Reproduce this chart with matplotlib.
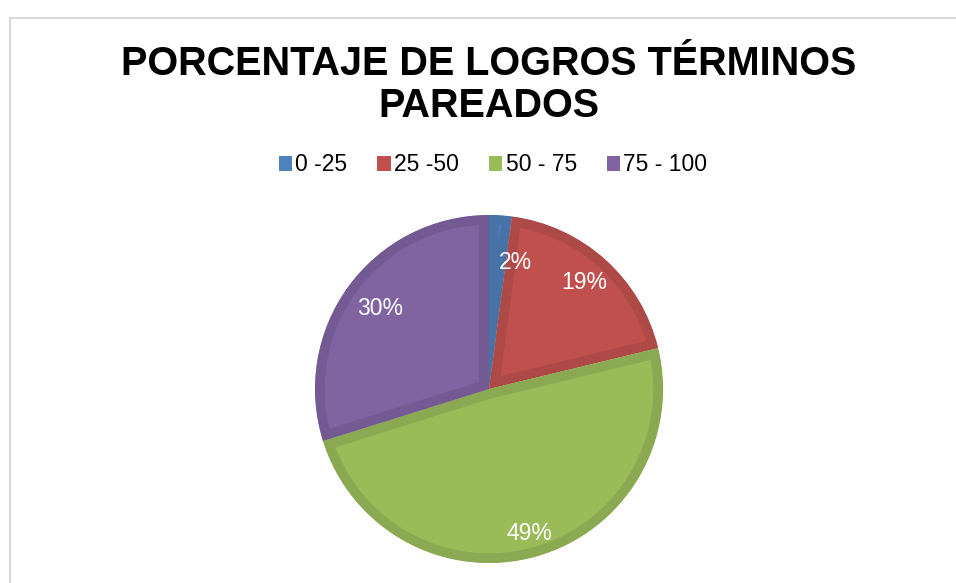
import numpy as np
import matplotlib
matplotlib.use('Agg')
import matplotlib.pyplot as plt
from matplotlib.patches import Patch
from matplotlib.lines import Line2D

plt.rcParams['font.family'] = ['Liberation Sans', 'DejaVu Sans']

# data
categories = ['0 -25', '25 -50', '50 - 75', '75 - 100']
values = [2.1, 19.1, 48.9, 29.8]
title = 'PORCENTAJE DE LOGROS TÉRMINOS\nPAREADOS'

# styles
fills = ['#4F81BD', '#C0504D', '#9BBB59', '#8064A2']
edges = ['#4672A8', '#AD4946', '#8BA853', '#735A92']
label_r = [0.74, 0.82, 0.86, 0.78]
label_shift = [-8, 0, 0, 0]

W, H = 956, 583
fig = plt.figure(figsize=(W / 100, H / 100), dpi=100)

# chart area border (only top and left visible)
fig.add_artist(Line2D([9.5 / W, 9.5 / W], [0, 1 - 17.5 / H], color='#D9D9D9', lw=1.5))
fig.add_artist(Line2D([9.5 / W, 1], [1 - 17.5 / H, 1 - 17.5 / H], color='#D9D9D9', lw=1.5))

# pie axes centred on the plot area
cx, cy, r = 489, 389, 174
ax = fig.add_axes([(cx - r) / W, 1 - (cy + r) / H, 2 * r / W, 2 * r / H])
wedges, texts, autotexts = ax.pie(values, colors=fills, startangle=90, counterclock=False,
                                  autopct='%1.0f%%', pctdistance=0.8,
                                  textprops={'color': 'white', 'fontsize': 16.5},
                                  wedgeprops={'linewidth': 14})
for w, ec in zip(wedges, edges):
    w.set_edgecolor(ec)
    w.set_clip_on(True)
    w.set_clip_path(w)  # keep the thick border inside each slice

for w, t, d, s in zip(wedges, autotexts, label_r, label_shift):
    ang = np.deg2rad((w.theta1 + w.theta2) / 2 + s)
    t.set_position((d * np.cos(ang), d * np.sin(ang)))
    t.set_ha('center')
    t.set_va('center')

ax.set_xlim(-1.0, 1.0)
ax.set_ylim(-1.0, 1.0)
ax.set_aspect('equal')
ax.axis('off')

fig.text(489 / W, 1 - 85 / H, title, ha='center', va='center', fontsize=28.5,
         fontweight='bold', linespacing=1.12)

handles = [Patch(facecolor=c, edgecolor='none') for c in fills]
fig.legend(handles, categories, loc='center', bbox_to_anchor=(493 / W, 1 - 165 / H), ncol=4,
           frameon=False, fontsize=16.5, handlelength=0.58, handleheight=0.58,
           handletextpad=0.15, columnspacing=1.3)

fig.savefig('out.png', dpi=100, facecolor='white')
